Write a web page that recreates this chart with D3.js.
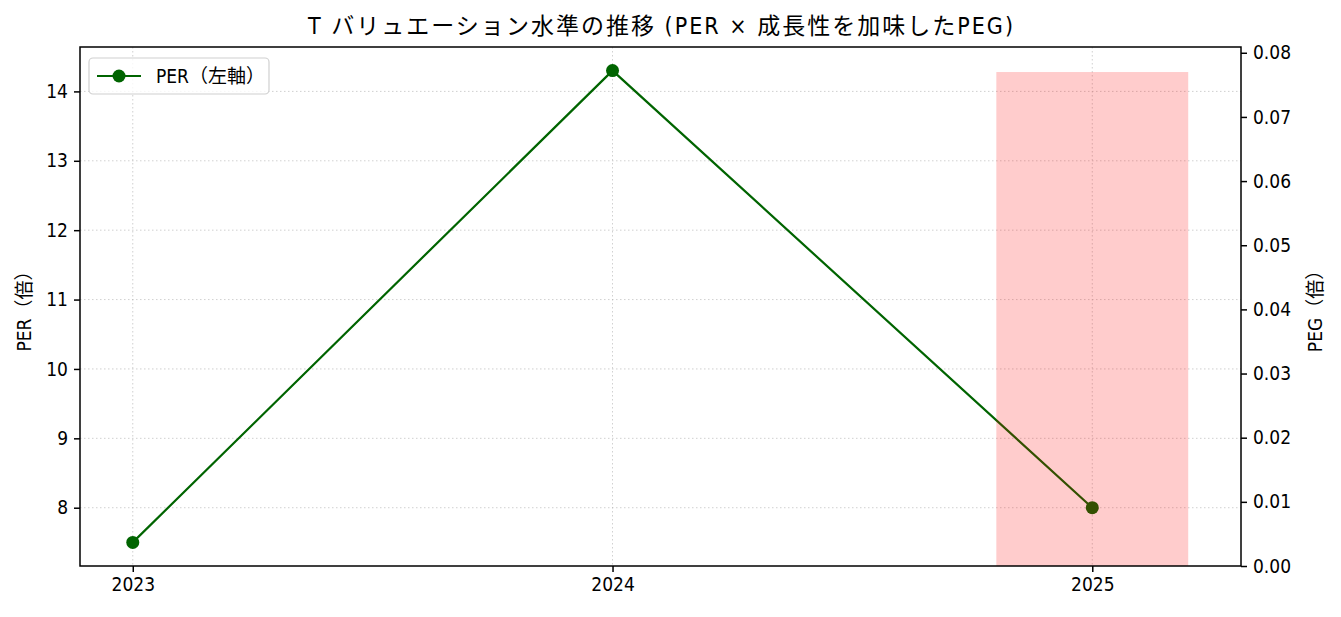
<!DOCTYPE html>
<html><head><meta charset="utf-8">
<script src="https://cdn.jsdelivr.net/npm/d3@7"></script>
<style>
body{margin:0;background:#fff;}
text{font-family:"Liberation Sans Narrow","DejaVu Sans Condensed","Noto Sans CJK JP",sans-serif;}
</style></head>
<body><svg id="c" width="1341" height="617"></svg>
<script>
const years = [2023, 2024, 2025];
const perValues = [7.5, 14.3, 8.0];
const pegYears = [2025];
const pegValues = [0.077];
const perTicks = [8, 9, 10, 11, 12, 13, 14];
const pegTicks = [0, 0.01, 0.02, 0.03, 0.04, 0.05, 0.06, 0.07, 0.08];
const titleText = "T バリュエーション水準の推移 (PER × 成長性を加味したPEG)";
const legendLabel = "PER（左軸）";
const leftLabel = "PER（倍）";
const rightLabel = "PEG（倍）";

const svg = d3.select("#c");
const L = 80, R = 1241, T = 47, B = 566;
const FONT = "'Liberation Sans Narrow','DejaVu Sans Condensed','Noto Sans CJK JP',sans-serif";

const x = d3.scaleLinear().domain([2022.89, 2025.31]).range([L, R]);
const yL = d3.scaleLinear().domain([7.16, 14.64]).range([B, T]);
const yR = d3.scaleLinear().domain([0, 0.0809]).range([B, T]);

// grid
const g = svg.append("g");
g.selectAll(".gy").data(perTicks).enter().append("line")
  .attr("x1", L).attr("x2", R).attr("y1", d => yL(d)).attr("y2", d => yL(d))
  .attr("stroke", "#b0b0b0").attr("stroke-opacity", 0.6).attr("stroke-width", 1).attr("stroke-dasharray", "1.5,2.5");
g.selectAll(".gx").data(years).enter().append("line")
  .attr("y1", T).attr("y2", B).attr("x1", d => x(d)).attr("x2", d => x(d))
  .attr("stroke", "#b0b0b0").attr("stroke-opacity", 0.6).attr("stroke-width", 1).attr("stroke-dasharray", "1.5,2.5");

// PER line
const pts = years.map((y, i) => [y, perValues[i]]);
svg.append("path").datum(pts)
  .attr("d", d3.line().x(d => x(d[0])).y(d => yL(d[1])))
  .attr("fill", "none").attr("stroke", "#006400").attr("stroke-width", 2.2);
svg.selectAll(".m").data(pts).enter().append("circle")
  .attr("cx", d => x(d[0])).attr("cy", d => yL(d[1])).attr("r", 6.5).attr("fill", "#006400");

// PEG bars (on top, translucent)
const bw = 0.4;
svg.selectAll(".bar").data(pegYears.map((y, i) => [y, pegValues[i]])).enter().append("rect")
  .attr("x", d => x(d[0] - bw / 2)).attr("width", d => x(d[0] + bw / 2) - x(d[0] - bw / 2))
  .attr("y", d => yR(d[1])).attr("height", d => B - yR(d[1]))
  .attr("fill", "red").attr("fill-opacity", 0.2);

// axes
const fs = "19px";
const ax = d3.axisBottom(x).tickValues(years).tickFormat(d3.format("d")).tickSize(6).tickPadding(6);
const axL = d3.axisLeft(yL).tickValues(perTicks).tickFormat(d3.format("d")).tickSize(6).tickPadding(6);
const axR = d3.axisRight(yR).tickValues(pegTicks).tickFormat(d3.format(".2f")).tickSize(6).tickPadding(6);
function style(sel){
  sel.select(".domain").remove();
  sel.selectAll("line").attr("stroke", "#000").attr("stroke-width", 1.5);
  sel.selectAll("text").attr("fill", "#000").style("font-size", fs).style("font-family", FONT);
}
svg.append("g").attr("transform", `translate(0,${B})`).call(ax).call(style);
svg.append("g").attr("transform", `translate(${L},0)`).call(axL).call(style);
svg.append("g").attr("transform", `translate(${R},0)`).call(axR).call(style);

// frame
svg.append("rect").attr("x", L).attr("y", T).attr("width", R - L).attr("height", B - T)
  .attr("fill", "none").attr("stroke", "#000").attr("stroke-width", 1.5);

// labels
svg.append("text").attr("x", (L + R) / 2).attr("y", 34).attr("text-anchor", "middle")
  .attr("textLength", 705).attr("lengthAdjust", "spacing")
  .style("font-size", "23px").style("font-family", FONT).text(titleText);
svg.append("text").attr("transform", `translate(31,${(T + B) / 2}) rotate(-90)`).attr("text-anchor", "middle")
  .style("font-size", fs).style("font-family", FONT).text(leftLabel);
svg.append("text").attr("transform", `translate(1322,${(T + B) / 2}) rotate(-90)`).attr("text-anchor", "middle")
  .style("font-size", fs).style("font-family", FONT).text(rightLabel);

// legend
const lg = svg.append("g");
lg.append("rect").attr("x", 89).attr("y", 58).attr("width", 180).attr("height", 36).attr("rx", 4)
  .attr("fill", "#fff").attr("fill-opacity", 0.8).attr("stroke", "#d0d0d0").attr("stroke-width", 1.2);
lg.append("line").attr("x1", 97).attr("x2", 141).attr("y1", 76).attr("y2", 76).attr("stroke", "#006400").attr("stroke-width", 2.2);
lg.append("circle").attr("cx", 119).attr("cy", 76).attr("r", 6.5).attr("fill", "#006400");
lg.append("text").attr("x", 156).attr("y", 83).style("font-size", fs).style("font-family", FONT).text(legendLabel);
</script></body></html>
